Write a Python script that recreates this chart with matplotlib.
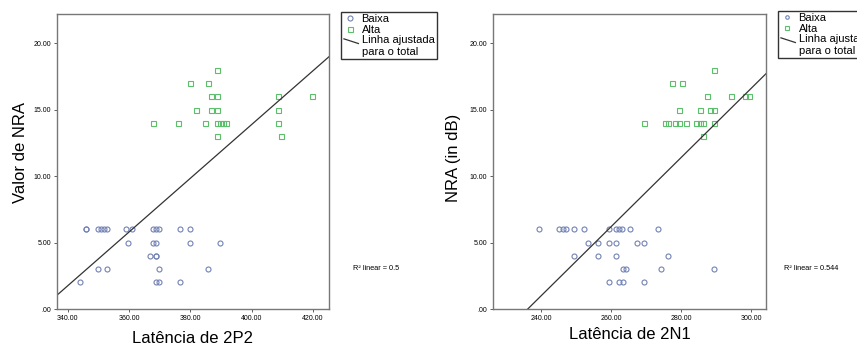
import numpy as np
import matplotlib.pyplot as plt
from matplotlib.lines import Line2D
from matplotlib.legend_handler import HandlerLine2D

plt.rcParams['font.family'] = ['Liberation Sans', 'DejaVu Sans']

# ---- Left panel: Latência de 2P2 vs NRA ----
p2_baixa_x = [346.0, 346.0, 349.8, 351.0, 351.8, 352.8, 358.9, 360.9, 367.9, 368.7, 369.8, 376.7, 379.8,
              359.8, 367.9, 368.7, 379.8, 389.8,
              366.8, 368.7, 368.7,
              349.8, 352.8, 369.8, 385.7,
              343.9, 368.7, 369.8, 376.7]
p2_baixa_y = [6, 6, 6, 6, 6, 6, 6, 6, 6, 6, 6, 6, 6,
              5, 5, 5, 5, 5,
              4, 4, 4,
              3, 3, 3, 3,
              2, 2, 2, 2]
p2_alta_x = [388.7,
             379.8, 385.7,
             386.7, 388.7, 408.6, 419.6,
             381.7, 386.7, 388.7, 408.6,
             367.9, 375.8, 384.8, 388.7, 389.7, 390.6, 391.6, 408.6,
             388.7, 409.7]
p2_alta_y = [18,
             17, 17,
             16, 16, 16, 16,
             15, 15, 15, 15,
             14, 14, 14, 14, 14, 14, 14, 14,
             13, 13]

# ---- Right panel: Latência de 2N1 vs NRA ----
n1_baixa_x = [239.3, 245.2, 246.2, 247.2, 249.3, 252.3, 259.3, 261.3, 262.2, 263.2, 265.3, 273.3,
              253.3, 256.3, 259.3, 261.3, 267.3, 269.3,
              249.3, 256.3, 261.3, 276.2,
              263.3, 264.2, 274.3, 289.3,
              259.3, 262.2, 263.3, 269.3]
n1_baixa_y = [6, 6, 6, 6, 6, 6, 6, 6, 6, 6, 6, 6,
              5, 5, 5, 5, 5, 5,
              4, 4, 4, 4,
              3, 3, 3, 3,
              2, 2, 2, 2]
n1_alta_x = [289.3,
             277.3, 280.4,
             287.3, 294.3, 298.3, 299.4,
             279.3, 285.3, 288.4, 289.3,
             269.3, 275.3, 276.2, 278.3, 279.3, 281.3, 284.3, 285.3, 286.4, 289.3,
             286.4]
n1_alta_y = [18,
             17, 17,
             16, 16, 16, 16,
             15, 15, 15, 15,
             14, 14, 14, 14, 14, 14, 14, 14, 14, 14,
             13]

panels = [
    dict(bx=p2_baixa_x, by=p2_baixa_y, ax_=p2_alta_x, ay=p2_alta_y,
         xlim=(336.5, 425.2), xticks=[340, 360, 380, 400, 420],
         xlabel='Latência de 2P2', ylabel='Valor de NRA', r2='R² linear = 0.5',
         rect=[57/857, 37/346, 272/857, 295/346], leg=(341/857, 1 - 12/346),
         r2pos=(353/857, 1 - 268/346), ylx=21/857, ylc=0.56, lpad=7, mscale=1.0),
    dict(bx=n1_baixa_x, by=n1_baixa_y, ax_=n1_alta_x, ay=n1_alta_y,
         xlim=(226.3, 304.3), xticks=[240, 260, 280, 300],
         xlabel='Latência de 2N1', ylabel='NRA (in dB)', r2='R² linear = 0.544',
         rect=[493/857, 37/346, 273/857, 295/346], leg=(778/857, 1 - 11/346),
         r2pos=(784/857, 1 - 268/346), ylx=453/857, ylc=0.545, lpad=4, mscale=0.7),
]

circ_col = '#7282b4'
sq_col = '#5cbf6c'


class DiagHandler(HandlerLine2D):
    # short "\" stroke next to the first line of the label
    def create_artists(self, legend, orig_handle, xdescent, ydescent, width, height, fontsize, trans):
        ln = Line2D([-xdescent + 0.05 * width, -xdescent + width * 1.05],
                    [height * 1.45 - ydescent, height * 0.85 - ydescent],
                    color=orig_handle.get_color(), lw=orig_handle.get_linewidth())
        ln.set_transform(trans)
        return [ln]


fig = plt.figure(figsize=(8.57, 3.46), dpi=100)

for p in panels:
    ax = fig.add_axes(p['rect'])
    hb, = ax.plot(p['bx'], p['by'], 'o', mfc='none', mec=circ_col, ms=3.6, mew=0.8, label='Baixa')
    ha, = ax.plot(p['ax_'], p['ay'], 's', mfc='none', mec=sq_col, ms=3.6, mew=0.8, label='Alta')

    # fit line over all data
    allx = np.array(p['bx'] + p['ax_'])
    ally = np.array(p['by'] + p['ay'])
    m, b = np.polyfit(allx, ally, 1)
    xx = np.array(p['xlim'])
    hl, = ax.plot(xx, m * xx + b, color='#333333', lw=0.9, label='Linha ajustada\npara o total')

    ax.set_xlim(p['xlim'])
    ax.set_ylim(0, 22.2)
    ax.set_xticks(p['xticks'])
    ax.set_xticklabels([f'{t:.2f}' for t in p['xticks']])
    ax.set_yticks([0, 5, 10, 15, 20])
    ax.set_yticklabels(['.00', '5.00', '10.00', '15.00', '20.00'])
    ax.tick_params(labelsize=5, length=2.5, width=0.6, pad=1.5, color='#444444')
    for s in ax.spines.values():
        s.set_color('#777777')
        s.set_linewidth(1.0)
    ax.set_xlabel(p['xlabel'], fontsize=12, labelpad=p['lpad'])
    fig.text(p['ylx'], p['ylc'], p['ylabel'], fontsize=12, rotation=90, ha='center', va='center')

    leg = fig.legend(handles=[hb, ha, hl], loc='upper left', bbox_to_anchor=p['leg'],
                     fontsize=8, frameon=True, fancybox=False, handlelength=1.3,
                     handletextpad=0.35, borderpad=0.2, labelspacing=0.05, borderaxespad=0,
                     markerscale=p['mscale'], handler_map={hl: DiagHandler()})
    leg.get_frame().set_edgecolor('black')
    leg.get_frame().set_linewidth(1.0)
    fig.text(p['r2pos'][0], p['r2pos'][1], p['r2'], fontsize=5.3, va='center')

fig.savefig('out.png', dpi=100)
